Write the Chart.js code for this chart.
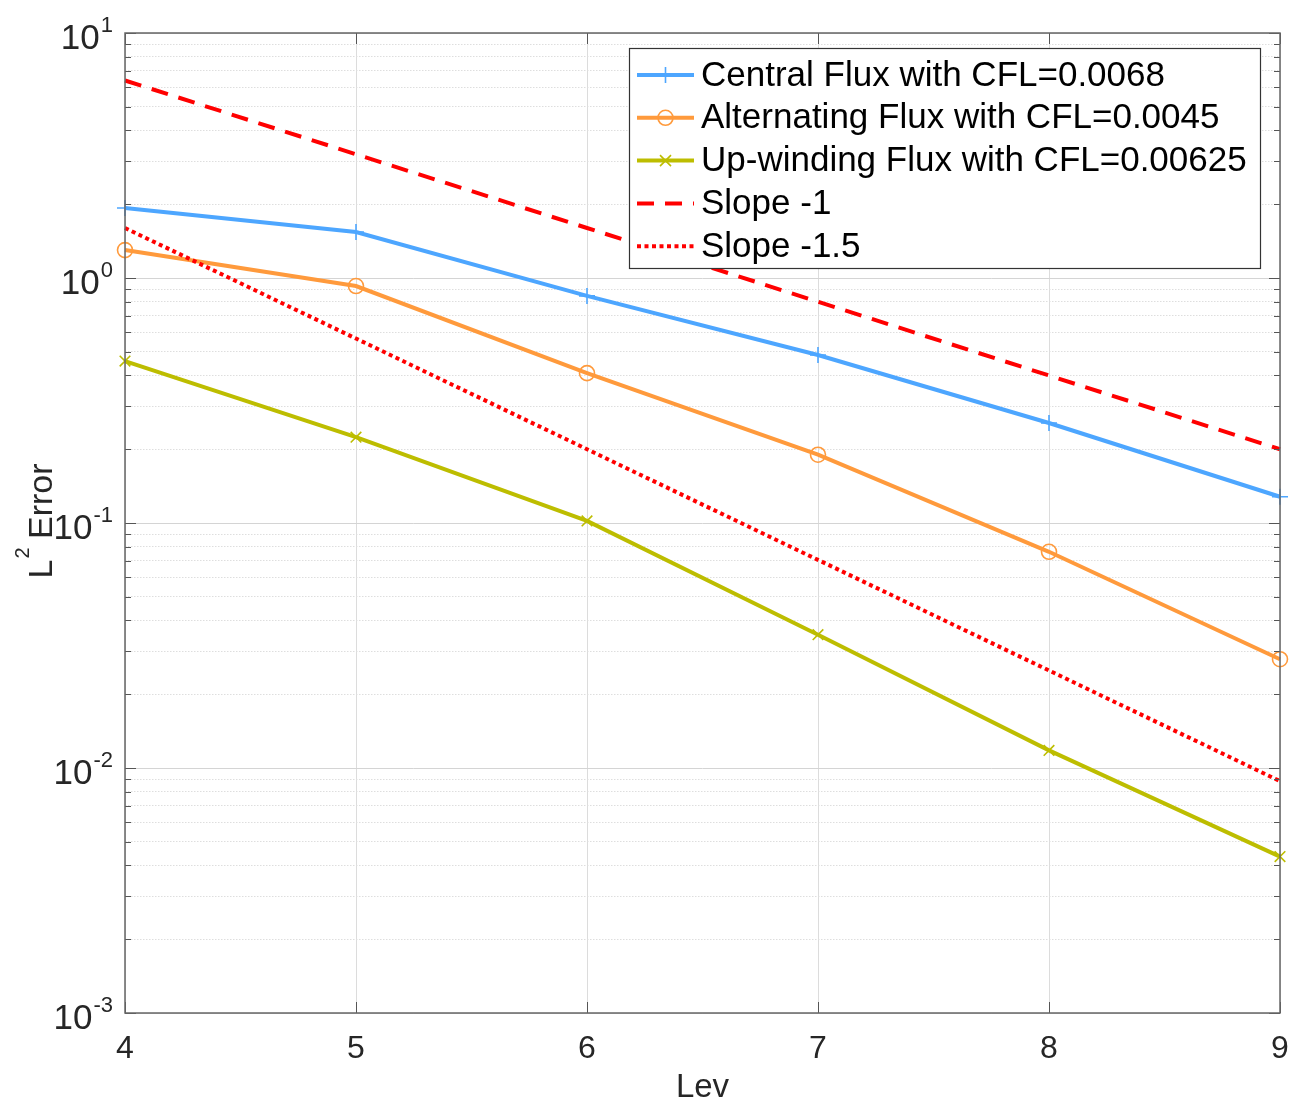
<!DOCTYPE html>
<html>
<head>
<meta charset="utf-8">
<script src="https://cdn.jsdelivr.net/npm/chart.js@4.4.1/dist/chart.umd.min.js"></script>
<style>
  html, body { margin: 0; padding: 0; background: #fff; }
  #wrap { width: 1294px; height: 1104px; }
</style>
</head>
<body>
<div id="wrap"><canvas id="errChart"></canvas></div>
<script>
// levels on the x axis
const levels = [4, 5, 6, 7, 8, 9];

// L2 error per level
const centralErr = [1.93, 1.54, 0.845, 0.485, 0.256, 0.128];
const alternatingErr = [1.30, 0.927, 0.409, 0.190, 0.0763, 0.0278];
const upwindErr = [0.458, 0.224, 0.102, 0.0350, 0.0118, 0.00435];
const slope1 = [6.4, 3.2, 1.6, 0.8, 0.4, 0.2];
const slope15 = [1.6, 0.566, 0.2, 0.0707, 0.025, 0.00884];

const seriesNames = [
    'Central Flux with CFL=0.0068',
    'Alternating Flux with CFL=0.0045',
    'Up-winding Flux with CFL=0.00625',
    'Slope -1',
    'Slope -1.5'
];

// decades shown on the y axis (10^-3 .. 10^1)
const yExponents = [-3, -2, -1, 0, 1];

const FONT = "'Liberation Sans', Arial, Helvetica, sans-serif";
const BLUE = '#4DA6FF';
const ORANGE = '#FF9A3C';
const OLIVE = '#BDBD00';
const RED = '#FF0000';

const toPoints = arr => arr.map((v, i) => ({ x: levels[i], y: v }));
const isDecade = v => Math.abs(Math.log10(v) - Math.round(Math.log10(v))) < 1e-9;

// marker drawing for the legend
function drawMarker(ctx, style, x, y, color) {
    ctx.save();
    ctx.strokeStyle = color;
    ctx.lineWidth = 1.6;
    ctx.setLineDash([]);
    ctx.beginPath();
    if (style === 'cross') {
        ctx.moveTo(x - 8, y); ctx.lineTo(x + 8, y);
        ctx.moveTo(x, y - 8); ctx.lineTo(x, y + 8);
    } else if (style === 'circle') {
        ctx.arc(x, y, 7.5, 0, Math.PI * 2);
    } else if (style === 'crossRot') {
        ctx.moveTo(x - 5.5, y - 5.5); ctx.lineTo(x + 5.5, y + 5.5);
        ctx.moveTo(x - 5.5, y + 5.5); ctx.lineTo(x + 5.5, y - 5.5);
    }
    ctx.stroke();
    ctx.restore();
}

const lineStyles = [
    { color: BLUE, dash: [], marker: 'cross' },
    { color: ORANGE, dash: [], marker: 'circle' },
    { color: OLIVE, dash: [], marker: 'crossRot' },
    { color: RED, dash: [17, 11], marker: null },
    { color: RED, dash: [4, 3.5], marker: null }
];

const axesDecor = {
    id: 'axesDecor',
    afterDatasetsDraw(chart) {
        const { ctx, chartArea: a, scales: { x, y } } = chart;
        ctx.save();

        // inward ticks
        ctx.strokeStyle = '#555';
        ctx.lineWidth = 1;
        y.ticks.forEach(t => {
            const py = Math.round(y.getPixelForValue(t.value)) + 0.5;
            const len = isDecade(t.value) ? 11 : 6;
            ctx.beginPath();
            ctx.moveTo(a.left, py); ctx.lineTo(a.left + len, py);
            ctx.moveTo(a.right, py); ctx.lineTo(a.right - len, py);
            ctx.stroke();
        });
        levels.forEach(l => {
            const px = Math.round(x.getPixelForValue(l)) + 0.5;
            ctx.beginPath();
            ctx.moveTo(px, a.bottom); ctx.lineTo(px, a.bottom - 11);
            ctx.moveTo(px, a.top); ctx.lineTo(px, a.top + 11);
            ctx.stroke();
        });

        // axes box
        ctx.strokeStyle = '#666';
        ctx.lineWidth = 1.5;
        ctx.strokeRect(a.left, a.top, a.right - a.left, a.bottom - a.top);

        // y tick labels as 10^n
        ctx.fillStyle = '#262626';
        ctx.textAlign = 'right';
        ctx.textBaseline = 'alphabetic';
        yExponents.forEach(e => {
            const py = y.getPixelForValue(Math.pow(10, e));
            const expTxt = String(e);
            ctx.font = '22px ' + FONT;
            const w = ctx.measureText(expTxt).width;
            ctx.fillText(expTxt, 113, py - 1);
            ctx.font = '35px ' + FONT;
            ctx.fillText('10', 113 - w - 1, py + 16);
        });

        // x tick labels
        ctx.textAlign = 'center';
        ctx.font = '32px ' + FONT;
        levels.forEach(l => {
            ctx.fillText(String(l), x.getPixelForValue(l), 1058);
        });

        // x title
        ctx.font = '33px ' + FONT;
        ctx.fillText('Lev', (a.left + a.right) / 2, 1097);

        // y title: L^2 Error, rotated
        ctx.save();
        ctx.translate(52, 521);
        ctx.rotate(-Math.PI / 2);
        ctx.textAlign = 'left';
        ctx.font = '34px ' + FONT;
        const wL = ctx.measureText('L').width;
        ctx.font = '20px ' + FONT;
        const w2 = ctx.measureText('2').width;
        ctx.font = '34px ' + FONT;
        const wE = ctx.measureText(' Error').width;
        const start = -(wL + w2 + wE) / 2;
        ctx.fillText('L', start, 0);
        ctx.font = '20px ' + FONT;
        ctx.fillText('2', start + wL + 1, -23);
        ctx.font = '34px ' + FONT;
        ctx.fillText(' Error', start + wL + w2, 0);
        ctx.restore();

        // legend box inside the axes
        const lx = 629, ly = 48, lw = 631, lh = 220;
        ctx.fillStyle = '#fff';
        ctx.fillRect(lx, ly, lw, lh);
        ctx.strokeStyle = '#333';
        ctx.lineWidth = 1.2;
        ctx.strokeRect(lx + 0.5, ly + 0.5, lw, lh);
        ctx.font = '35px ' + FONT;
        ctx.textAlign = 'left';
        ctx.textBaseline = 'middle';
        seriesNames.forEach((name, i) => {
            const st = lineStyles[i];
            const ry = 75 + i * 42.8;
            ctx.save();
            ctx.strokeStyle = st.color;
            ctx.lineWidth = 4;
            ctx.setLineDash(st.dash);
            ctx.beginPath();
            ctx.moveTo(637, ry); ctx.lineTo(694, ry);
            ctx.stroke();
            ctx.restore();
            if (st.marker) drawMarker(ctx, st.marker, 665.5, ry, st.color);
            ctx.fillStyle = '#000';
            ctx.fillText(name, 701, ry + 1);
        });

        ctx.restore();
    }
};

const ctx = document.getElementById('errChart').getContext('2d');
const errChart = new Chart(ctx, {
    type: 'line',
    data: {
        datasets: [
            {
                label: seriesNames[0],
                data: toPoints(centralErr),
                borderColor: BLUE,
                borderWidth: 4,
                pointStyle: 'cross',
                pointRadius: 8,
                pointBorderWidth: 1.6,
                pointBorderColor: BLUE,
                order: 5
            },
            {
                label: seriesNames[1],
                data: toPoints(alternatingErr),
                borderColor: ORANGE,
                borderWidth: 4,
                pointStyle: 'circle',
                pointRadius: 7.5,
                pointBorderWidth: 1.6,
                pointBorderColor: ORANGE,
                pointBackgroundColor: 'rgba(0,0,0,0)',
                order: 4
            },
            {
                label: seriesNames[2],
                data: toPoints(upwindErr),
                borderColor: OLIVE,
                borderWidth: 4,
                pointStyle: 'crossRot',
                pointRadius: 7.5,
                pointBorderWidth: 1.6,
                pointBorderColor: OLIVE,
                order: 3
            },
            {
                label: seriesNames[3],
                data: toPoints(slope1),
                borderColor: RED,
                borderWidth: 4,
                borderDash: [17, 11],
                pointRadius: 0,
                order: 2
            },
            {
                label: seriesNames[4],
                data: toPoints(slope15),
                borderColor: RED,
                borderWidth: 4,
                borderDash: [4, 3.5],
                pointRadius: 0,
                order: 1
            }
        ]
    },
    options: {
        responsive: true,
        maintainAspectRatio: false,
        animation: false,
        clip: false,
        layout: { padding: { top: 33, right: 14, left: 0, bottom: 0 } },
        elements: { line: { tension: 0, fill: false } },
        plugins: {
            legend: { display: false },
            tooltip: { enabled: false }
        },
        scales: {
            x: {
                type: 'linear',
                min: 4,
                max: 9,
                ticks: { display: false, stepSize: 1 },
                grid: { color: '#dcdcdc', lineWidth: 1, drawTicks: false },
                border: { display: false },
                afterFit: s => { s.height = 91; }
            },
            y: {
                type: 'logarithmic',
                min: 0.001,
                max: 10,
                ticks: { display: false },
                afterBuildTicks: s => {
                    const t = [];
                    for (let e = -3; e < 1; e++) {
                        for (let m = 1; m < 10; m++) t.push({ value: m * Math.pow(10, e) });
                    }
                    t.push({ value: 10 });
                    s.ticks = t;
                },
                grid: {
                    drawTicks: false,
                    lineWidth: 1,
                    color: c => (c.tick && isDecade(c.tick.value)) ? '#d4d4d4' : '#dedede'
                },
                border: {
                    display: false,
                    dash: c => (c.tick && isDecade(c.tick.value)) ? [] : [1.5, 1.5]
                },
                afterFit: s => { s.width = 125; }
            }
        }
    },
    plugins: [axesDecor]
});
</script>
</body>
</html>
